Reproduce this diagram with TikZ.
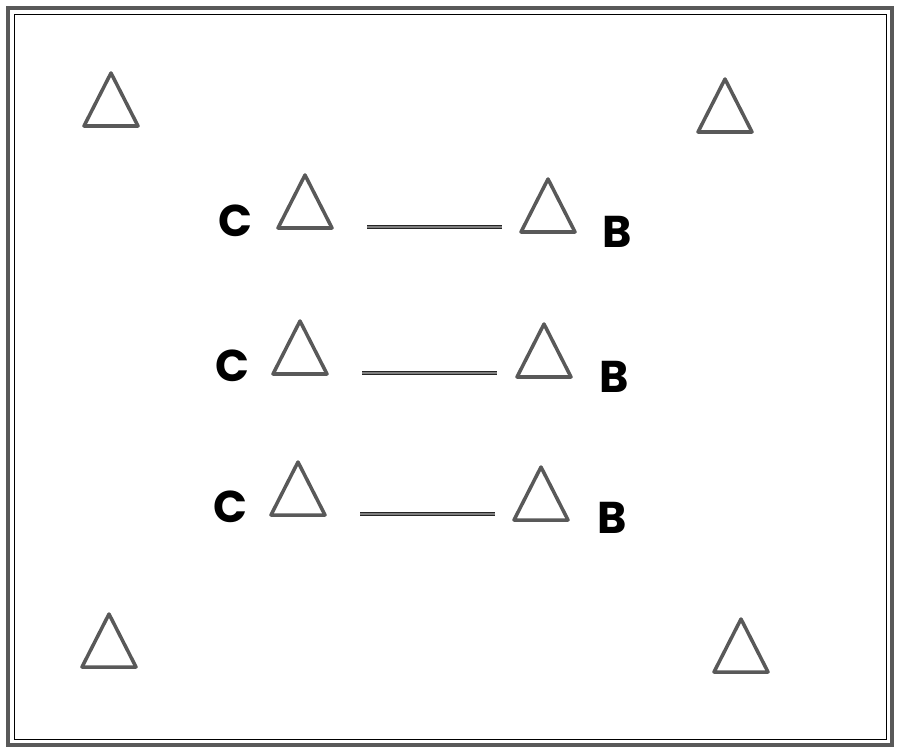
\documentclass[tikz,border=0pt]{standalone}
\usepackage{fontspec}
\setmainfont{Poppins}
\usetikzlibrary{calc}
\tikzset{
  tri/.style={draw=black!65,line width=3pt,line join=round},
  link/.style={draw=black!85,line width=0.6pt,double=black!50,double distance=2.4pt},
  lbl/.style={font=\fontsize{38}{40}\selectfont\bfseries,inner sep=0pt}
}
\newcommand{\tridraw}[1]{\draw[tri] ($(#1)+(-27,0)$) -- ($(#1)+(0,-53)$) -- ($(#1)+(27,0)$) -- cycle;}

\begin{document}
\begin{tikzpicture}[x=0.03cm,y=-0.03cm]
\useasboundingbox (0,0) rectangle (900,752);
% frame
\draw[draw=black!65,line width=3.2pt] (8,8) rectangle (892,745);
\draw[line width=0.8pt] (14,14) rectangle (886,739);
% corner triangles (base centres)
\coordinate (tl) at (111,126);
\coordinate (tr) at (725,132);
\coordinate (bl) at (109,667);
\coordinate (br) at (741,672);
\foreach \t in {tl,tr,bl,br} {\tridraw{\t}}
% three rows
\foreach \n/\ax/\ay/\bx/\by/\cx/\cy/\dx/\dy in
  {1/305/228/548/232/235/221/617/232,
   2/300/374/544/377/232/366/614/377,
   3/298/515/541/520/230/507/612/518} {
  \coordinate (a\n) at (\ax,\ay);
  \coordinate (b\n) at (\bx,\by);
  \tridraw{a\n}
  \tridraw{b\n}
  \node[lbl] (c\n) at (\cx,\cy) {C};
  \node[lbl] (d\n) at (\dx,\dy) {B};
  \draw[link] ($(a\n)+(62,-1)$) -- ($(a\n)+(62,-1)+(135,0)$);
}
\end{tikzpicture}
\end{document}
